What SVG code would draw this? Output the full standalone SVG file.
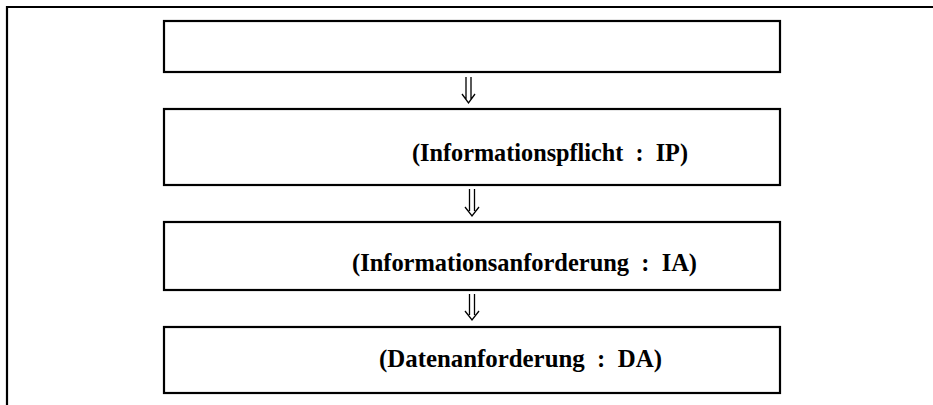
<svg xmlns="http://www.w3.org/2000/svg" width="933" height="405" viewBox="0 0 933 405">
<style>
.box{fill:#fff;stroke:#000;stroke-width:2.2}
.frame{fill:none;stroke:#000;stroke-width:2.2}
.lbl{font-family:"Liberation Serif","Times New Roman",serif;font-weight:bold;font-size:26px;fill:#000;white-space:pre}
.arr{fill:none;stroke:#000;stroke-width:1.3}
</style>
<rect width="933" height="405" fill="#fff"/>
<g id="frame">
<path class="frame" d="M7,405 V7 H933"/>
</g>
<g id="n1"><rect class="box" x="164" y="21" width="616" height="51"/></g>
<g id="n2"><rect class="box" x="164" y="109" width="616" height="76"/>
<text class="lbl" x="412" y="161" textLength="276" lengthAdjust="spacingAndGlyphs" xml:space="preserve">(Informationspflicht  :  IP)</text></g>
<g id="n3"><rect class="box" x="164" y="222" width="616" height="68"/>
<text class="lbl" x="352" y="271" textLength="345" lengthAdjust="spacingAndGlyphs" xml:space="preserve">(Informationsanforderung  :  IA)</text></g>
<g id="n4"><rect class="box" x="164" y="327" width="616" height="66"/>
<text class="lbl" x="379" y="367" textLength="283" lengthAdjust="spacingAndGlyphs" xml:space="preserve">(Datenanforderung  :  DA)</text></g>
<g id="connectors">
<path class="arr" d="M466,77 V99 M471,77 V99 M462,94 L468.5,103 L475,94"/>
<path class="arr" d="M469.5,189 V211 M474.5,189 V211 M465,207 L472,216 L479,207"/>
<path class="arr" d="M469.5,294 V315 M474.5,294 V315 M465,311 L472,320 L479,311"/>
</g>
</svg>
